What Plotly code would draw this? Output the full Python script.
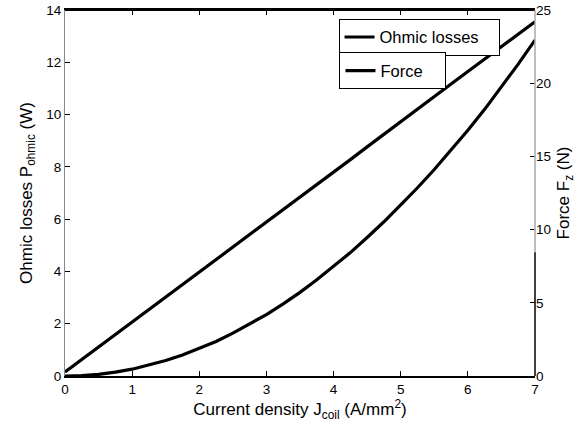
import plotly.graph_objects as go

# Current density samples (A/mm^2)
j_coil = [0, 0.25, 0.5, 0.75, 1, 1.25, 1.5, 1.75, 2, 2.25, 2.5, 2.75, 3, 3.25, 3.5,
          3.75, 4, 4.25, 4.5, 4.75, 5, 5.25, 5.5, 5.75, 6, 6.25, 6.5, 6.75, 7]
# Ohmic losses (W)
p_ohmic = [0, 0.016, 0.065, 0.147, 0.26, 0.41, 0.59, 0.80, 1.05, 1.32, 1.64, 1.98, 2.35,
           2.76, 3.2, 3.68, 4.2, 4.72, 5.3, 5.9, 6.55, 7.2, 7.9, 8.64, 9.4, 10.2, 11.05,
           11.93, 12.85]
# Force (N)
force = [0.27, 1.12, 1.98, 2.84, 3.7, 4.55, 5.4, 6.25, 7.1, 7.95, 8.8, 9.65, 10.5, 11.35,
         12.2, 13.05, 13.9, 14.78, 15.65, 16.52, 17.4, 18.25, 19.1, 19.95, 20.8, 21.65,
         22.5, 23.35, 24.2]

x_ticks = [0, 1, 2, 3, 4, 5, 6, 7]
y1_ticks = [0, 2, 4, 6, 8, 10, 12, 14]
y2_ticks = [0, 5, 10, 15, 20, 25]

FONT = "Liberation Sans, Arial, Helvetica, sans-serif"

fig = go.Figure()
fig.add_trace(go.Scatter(x=j_coil, y=p_ohmic, mode="lines", name="Ohmic losses",
                         line=dict(color="black", width=3.2), yaxis="y", legend="legend",
                         showlegend=True))
fig.add_trace(go.Scatter(x=j_coil, y=force, mode="lines", name="Force",
                         line=dict(color="black", width=3.2), yaxis="y2", legend="legend2",
                         showlegend=True))

legend_style = dict(xanchor="left", yanchor="top", bgcolor="white", bordercolor="black",
                    borderwidth=1, font=dict(size=16.5), tracegroupgap=0, itemwidth=30,
                    visible=True, orientation="h", entrywidthmode="pixels")

fig.update_layout(
    width=578, height=428,
    showlegend=True,
    margin=dict(l=65, r=43, t=10, b=52),
    paper_bgcolor="white", plot_bgcolor="white",
    font=dict(family=FONT, size=13, color="black"),
    xaxis=dict(range=[0, 7], tickvals=x_ticks, ticks="inside", ticklen=5, tickcolor="black",
               showline=True, linecolor="black", linewidth=1.5, mirror="ticks",
               showgrid=False, zeroline=False, tickfont=dict(size=13.5), automargin=False,
               title=dict(text="Current density J<sub>coil</sub> (A/mm<sup>2</sup>)",
                          font=dict(size=17), standoff=5)),
    yaxis=dict(range=[0, 14], tickvals=y1_ticks, ticks="inside", ticklen=5, tickcolor="black",
               showline=True, linecolor="#8a8a8a", linewidth=1.2, mirror=False,
               showgrid=False, zeroline=False, tickfont=dict(size=13.5), automargin=False,
               title=dict(text="Ohmic losses P<sub>ohmic</sub> (W)", font=dict(size=17), standoff=9)),
    yaxis2=dict(range=[0, 25], tickvals=y2_ticks, ticks="inside", ticklen=5, tickcolor="black",
                overlaying="y", side="right", showline=False, showgrid=False, zeroline=False,
                tickfont=dict(size=13.5), automargin=False,
                title=dict(text="Force F<sub>z</sub> (N)", font=dict(size=17), standoff=7)),
    legend=dict(x=0.582, y=0.976, entrywidth=114, **legend_style),
    legend2=dict(x=0.584, y=0.884, entrywidth=60, **legend_style),
    shapes=[
        # top border
        dict(type="line", xref="paper", yref="paper", x0=0, x1=1, y0=1, y1=1,
             line=dict(color="black", width=2)),
        # right axis line: light upper part, dark lower part
        dict(type="line", xref="paper", yref="paper", x0=1, x1=1, y0=0.338, y1=1,
             line=dict(color="#a8a8a8", width=1.5)),
        dict(type="line", xref="paper", yref="paper", x0=1, x1=1, y0=0, y1=0.338,
             line=dict(color="black", width=1.5)),
    ],
)

fig.write_html("out.html")
